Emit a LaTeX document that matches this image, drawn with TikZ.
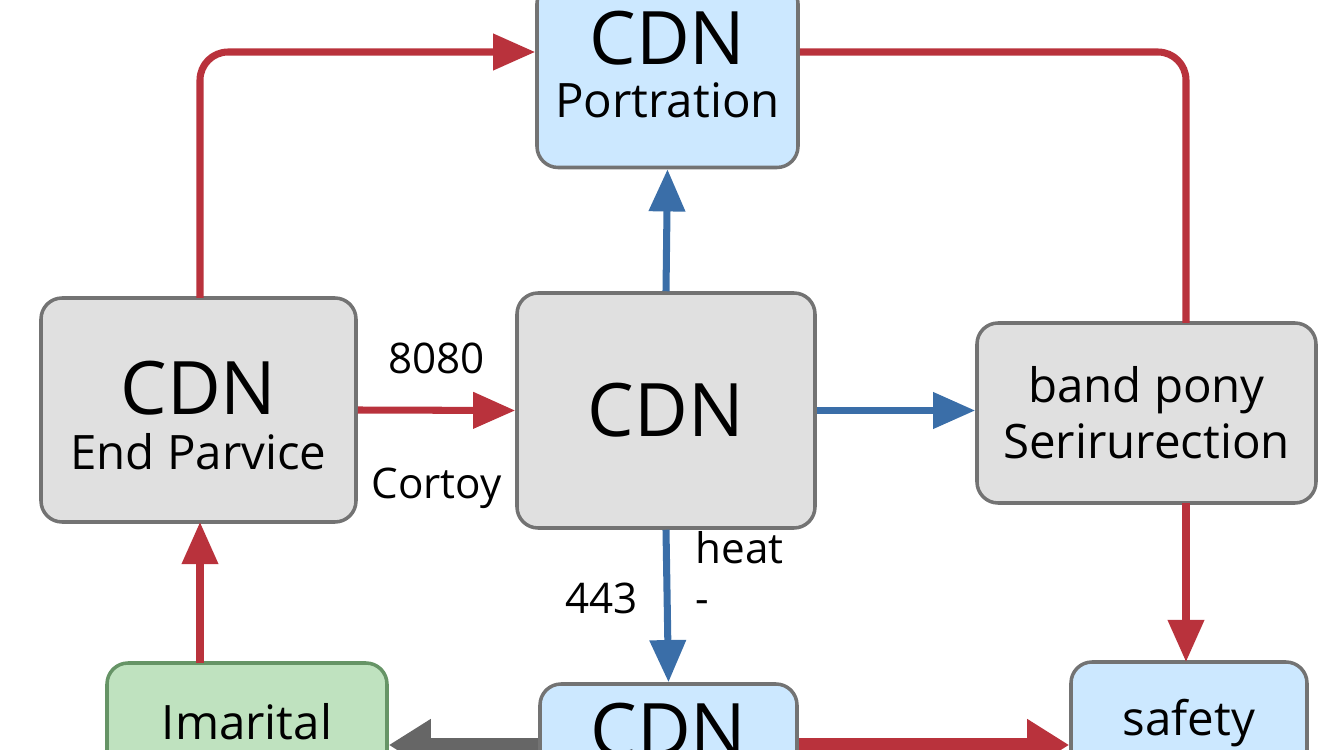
\documentclass[tikz,border=0pt]{standalone}
\usepackage{fontspec}
\setmainfont{Open Sans}
\usetikzlibrary{arrows.meta}
\definecolor{arblue}{RGB}{58,110,168}
\definecolor{arred}{RGB}{185,50,60}
\tikzset{
  box/.style={draw=black!55,rounded corners=6pt,line width=1pt,align=center,inner sep=0pt},
  grey/.style={box,fill=black!12},
  blu/.style={box,fill=blue!45!cyan!20},
  grn/.style={box,fill=green!55!black!25,draw=green!30!black!60},
  redar/.style={draw=arred,line width=2pt,-{Triangle[length=12pt,width=10pt]}},
  bluar/.style={draw=arblue,line width=2pt,-{Triangle[length=12pt,width=10pt]}},
  big/.style={font=\fontsize{21}{22}\selectfont},
  mid/.style={font=\fontsize{13.5}{16}\selectfont},
  lbl/.style={font=\fontsize{12}{14}\selectfont}
}
\begin{document}
\begin{tikzpicture}
  \useasboundingbox (0,0) rectangle (13.44,7.5);
  \clip (0,0) rectangle (13.44,7.5);
  % boxes
  \node[blu,minimum width=2.61cm,minimum height=1.85cm] (top) at (6.675,6.75) {};
  \node[big] at (6.675,7.12) {CDN};
  \node[mid] at (6.675,6.5) {Portration};
  \node[grey,minimum width=3.15cm,minimum height=2.24cm] (lft) at (1.985,3.4) {};
  \node[big] at (1.985,3.62) {CDN};
  \node[mid] at (1.985,2.98) {End Parvice};
  \node[grey,minimum width=2.98cm,minimum height=2.35cm,big] (ctr) at (6.66,3.395) {CDN};
  \node[grey,minimum width=3.39cm,minimum height=1.8cm,mid] (rgt) at (11.465,3.37) {band pony\\Serirurection};
  \node[grn,minimum width=2.8cm,minimum height=1.5cm] (gr) at (2.47,0.12) {};
  \node[mid] at (2.47,0.28) {Imarital};
  \node[blu,minimum width=2.57cm,minimum height=1.5cm] (bm) at (6.685,-0.09) {};
  \node[big] at (6.685,0.2) {CDN};
  \node[blu,minimum width=2.36cm,minimum height=1.5cm] (sf) at (11.89,0.13) {};
  \node[mid] at (11.89,0.27) {safety};
  % connectors
  \coordinate (c1) at (2.0,6.98);
  \coordinate (c2) at (11.86,6.98);
  \draw[redar,rounded corners=8pt] (2.0,4.52) -- (c1) -- (top.west|-c1);
  \draw[redar,-,rounded corners=8pt] (top.east|-c2) -- (c2) -- (11.86,4.27);
  \draw[bluar] (ctr.north) -- (top.south);
  \draw[redar] (lft.east) -- node[lbl,above=6pt]{8080} node[lbl,below=12pt]{Cortoy} (ctr.west);
  \draw[bluar] (ctr.east) -- (rgt.west|-ctr.east);
  \draw[bluar] (ctr.south) -- node[lbl,left=4pt,pos=0.45]{443} node[lbl,right=4pt,pos=0.28,align=left]{heat\\-} (bm.north);
  \draw[redar] (11.86,2.47) -- (11.86,0.88);
  \draw[redar] (2.0,0.87) -- (2.0,2.28);
  \draw[draw=black!60,line width=4pt,-{Triangle[length=12pt,width=14pt]}] (bm.west|-0,0.05) -- (gr.east|-0,0.05);
  \draw[draw=arred,line width=4pt,-{Triangle[length=12pt,width=14pt]}] (bm.east|-0,0.05) -- (sf.west|-0,0.05);
\end{tikzpicture}
\end{document}
